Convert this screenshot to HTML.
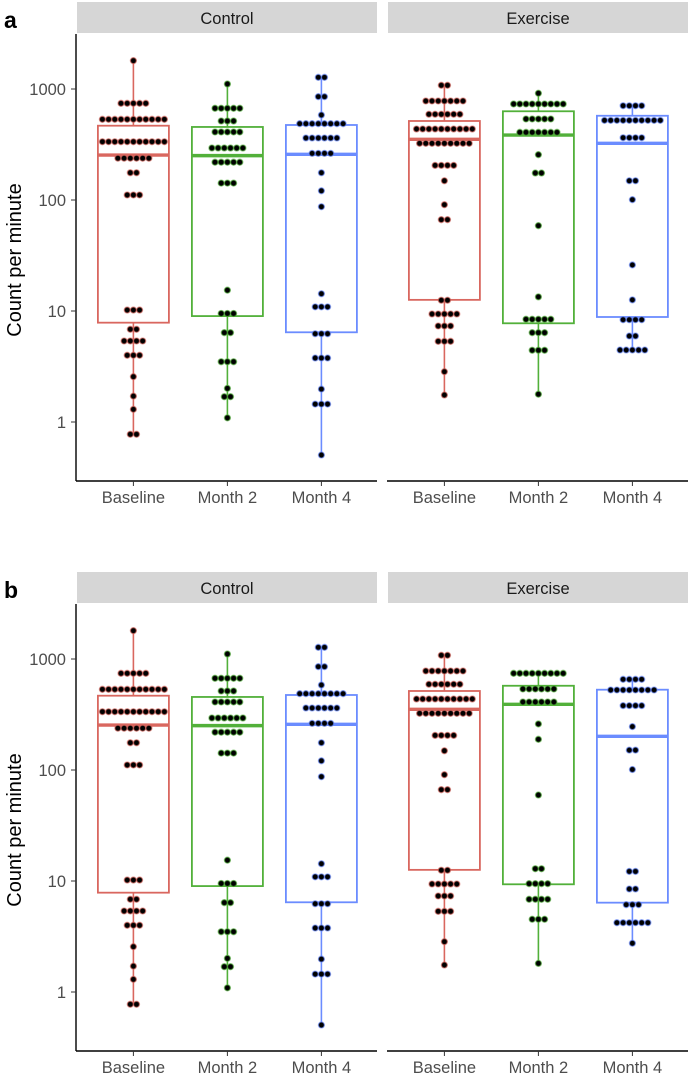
<!DOCTYPE html>
<html><head><meta charset="utf-8"><style>
body{margin:0;background:#fff;}
svg{display:block;font-family:"Liberation Sans",Arial,sans-serif;}
</style></head><body>
<svg id="chart" width="692" height="1077" viewBox="0 0 692 1077"></svg>
<script>
const categories = ["Baseline", "Month 2", "Month 4"];
const facets = ["Control", "Exercise"];
const yTicks = [1, 10, 100, 1000];
const yTickLabels = ["1", "10", "100", "1000"];

// panel a
const aCtlBaseVals = [1800,743,533,335,238,176,111,10.2,6.84,5.37,3.99,2.56,1.71,1.30,0.775];
const aCtlBaseCnt  = [1,5,11,11,6,2,3,3,2,4,3,1,1,1,2];
const aCtlM2Vals = [1109,670,515,410,294,219,142,15.4,9.5,6.38,3.49,2.01,1.69,1.09];
const aCtlM2Cnt  = [1,5,3,5,6,5,3,1,3,2,3,1,2,1];
const aCtlM4Vals = [1274,853,583,487,362,263,176,121,87,14.3,10.9,6.24,3.77,1.98,1.45,0.504];
const aCtlM4Cnt  = [2,2,1,8,6,4,1,1,1,1,3,3,3,1,3,1];
const aExBaseVals = [1080,780,592,436,324,205,149,90.7,66.5,12.5,9.4,7.33,5.33,2.84,1.75];
const aExBaseCnt  = [2,7,6,10,9,4,1,1,2,2,5,3,3,1,1];
const aExM2Vals = [915,733,537,407,256,175,58.7,13.4,8.42,6.38,4.43,1.78];
const aExM2Cnt  = [1,9,5,7,1,2,1,1,5,3,3,1];
const aExM4Vals = [707,522,364,149,100.7,26,12.6,8.35,5.95,4.45];
const aExM4Cnt  = [4,10,4,2,1,1,1,4,2,5];
const aQ1  = [7.85,9.0,6.43,12.6,7.75,8.83];
const aMed = [254,251,258,352,385,324];
const aQ3  = [467,455,474,515,630,574];

// panel b
const bCtlBaseVals = [1800,743,533,335,238,176,111,10.2,6.84,5.37,3.99,2.56,1.71,1.30,0.775];
const bCtlBaseCnt  = [1,5,11,11,6,2,3,3,2,4,3,1,1,1,2];
const bCtlM2Vals = [1109,670,515,410,294,219,142,15.4,9.5,6.38,3.49,2.01,1.69,1.09];
const bCtlM2Cnt  = [1,5,3,5,6,5,3,1,3,2,3,1,2,1];
const bCtlM4Vals = [1274,853,583,487,362,263,176,121,87,14.3,10.9,6.24,3.77,1.98,1.45,0.504];
const bCtlM4Cnt  = [2,2,1,8,6,4,1,1,1,1,3,3,3,1,3,1];
const bExBaseVals = [1080,780,592,436,324,205,149,90.7,66.5,12.5,9.4,7.33,5.33,2.84,1.75];
const bExBaseCnt  = [2,7,6,10,9,4,1,1,2,2,5,3,3,1,1];
const bExM2Vals = [743,537,410,260,189,59.5,12.9,9.46,6.84,4.52,1.81];
const bExM2Cnt  = [9,6,6,1,1,1,2,4,4,3,1];
const bExM4Vals = [656,526,380,246,151,101,12.2,8.47,6.12,4.21,2.75];
const bExM4Cnt  = [4,8,4,1,2,1,2,2,3,6,1];
const bQ1  = [7.85,9.0,6.43,12.6,9.34,6.38];
const bMed = [254,251,258,352,391,201];
const bQ3  = [467,455,474,515,574,529];

const NS = "http://www.w3.org/2000/svg";
const svg = document.getElementById("chart");
const colors = ["#D9675F", "#52B03A", "#6B8CFF"];
function mk(tag, attrs, parent){const e=document.createElementNS(NS,tag);for(const k in attrs)e.setAttribute(k,attrs[k]);(parent||svg).appendChild(e);return e;}

function drawPanel(off, letter, groups, q1, med, q3){
  const yScale = v => off + 422 - Math.log10(v)*111;
  const panelX = [77, 388];
  const xScale = (f, c) => panelX[f] + (c + 0.6) * 94;
  const g = mk("g", {});
  
  
  const lt = mk("text", {x:4, y:off+28, "font-size":23, "font-weight":"bold", fill:"#000"}, g);
  lt.textContent = letter;
  
  
  for (let f=0; f<2; f++){
    const s = mk("rect", {x:panelX[f], y:off+2, width:300, height:31, fill:"#D6D6D6"}, g);
    
    
    const st = mk("text", {x:panelX[f]+150, y:off+24, "text-anchor":"middle", "font-size":16.5, fill:"#1a1a1a"}, g);
    st.textContent = facets[f];
    
    
    const xl = mk("line", {x1:panelX[f]-1, x2:panelX[f]+300, y1:off+481, y2:off+481, stroke:"#000", "stroke-width":1.4}, g);
    
    
    for (let c=0; c<3; c++){
      const x = xScale(f,c);
      const tk = mk("line", {x1:x, x2:x, y1:off+481, y2:off+486, stroke:"#333", "stroke-width":1}, g);
      
      
      const tl = mk("text", {x:x, y:off+503, "text-anchor":"middle", "font-size":16.5, fill:"#4d4d4d"}, g);
      tl.textContent = categories[c];
      
      
    }
  }
  const ya = mk("line", {x1:76, x2:76, y1:off+34, y2:off+481, stroke:"#000", "stroke-width":1.4}, g);
  
  
  yTicks.forEach((v,i)=>{
    const y = yScale(v);
    const tk = mk("line", {x1:71, x2:76, y1:y, y2:y, stroke:"#333", "stroke-width":1}, g);
    
    
    const tl = mk("text", {x:66, y:y+6, "text-anchor":"end", "font-size":16.5, fill:"#4d4d4d"}, g);
    tl.textContent = yTickLabels[i];
    
    
  });
  const yt = mk("text", {x:0, y:0, transform:`translate(21,${off+260}) rotate(-90)`, "text-anchor":"middle", "font-size":20, fill:"#000"}, g);
  yt.textContent = "Count per minute";
  
  

  groups.forEach((gr, i)=>{
    const f = Math.floor(i/3), c = i%3, col = colors[c];
    const x = xScale(f,c);
    const vals = gr[0], cnts = gr[1];
    const mx = Math.max(...vals), mn = Math.min(...vals);
    const bx = mk("g", {}, g);
    
    
    mk("line", {x1:x, x2:x, y1:yScale(mx), y2:yScale(q3[i]), stroke:col, "stroke-width":1.6}, bx);
    mk("line", {x1:x, x2:x, y1:yScale(q1[i]), y2:yScale(mn), stroke:col, "stroke-width":1.6}, bx);
    mk("rect", {x:x-35.5, y:yScale(q3[i]), width:71, height:yScale(q1[i])-yScale(q3[i]), fill:"none", stroke:col, "stroke-width":1.8}, bx);
    mk("line", {x1:x-35.5, x2:x+35.5, y1:yScale(med[i]), y2:yScale(med[i]), stroke:col, "stroke-width":3.4}, bx);
    vals.forEach((v,k)=>{
      const n = cnts[k], y = yScale(v);
      for (let j=0;j<n;j++){
        const d = mk("circle", {cx:x+(j-(n-1)/2)*6.2, cy:y, r:3.0, fill:"#000", stroke:col, "stroke-width":1.3, "stroke-opacity":0.6}, bx);
        
        
      }
    });
  });
}
drawPanel(0, "a", [[aCtlBaseVals,aCtlBaseCnt],[aCtlM2Vals,aCtlM2Cnt],[aCtlM4Vals,aCtlM4Cnt],[aExBaseVals,aExBaseCnt],[aExM2Vals,aExM2Cnt],[aExM4Vals,aExM4Cnt]], aQ1, aMed, aQ3);
drawPanel(570, "b", [[bCtlBaseVals,bCtlBaseCnt],[bCtlM2Vals,bCtlM2Cnt],[bCtlM4Vals,bCtlM4Cnt],[bExBaseVals,bExBaseCnt],[bExM2Vals,bExM2Cnt],[bExM4Vals,bExM4Cnt]], bQ1, bMed, bQ3);
</script>
</body></html>
